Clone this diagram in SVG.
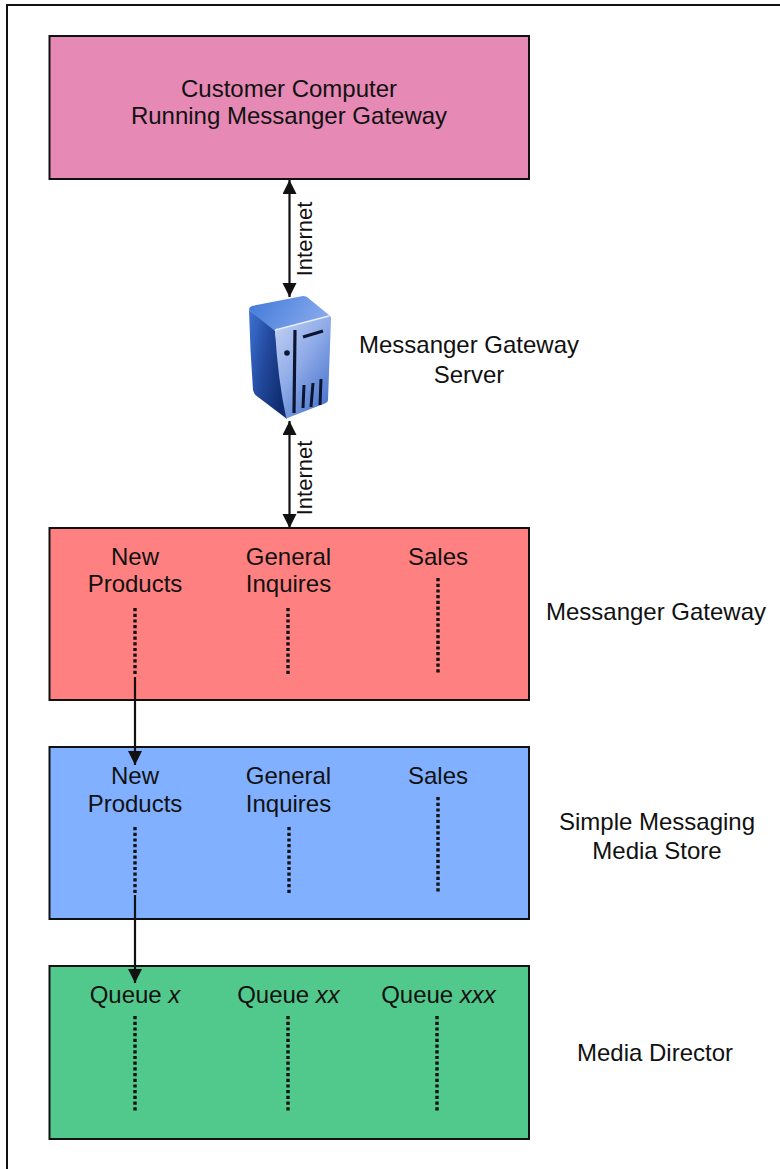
<svg xmlns="http://www.w3.org/2000/svg" width="780" height="1169" viewBox="0 0 780 1169">
<style>
text{font-family:"Liberation Sans",Arial,sans-serif;font-size:24px;fill:#111;text-anchor:middle}
.box{stroke:#111;stroke-width:2}
.dot{stroke:#111;stroke-width:3.400;stroke-dasharray:3.200 2.500;fill:none}
.con{stroke:#111;stroke-width:2.200;fill:none}
.cl{font-size:22px}
</style>
<defs>
<marker id="ah" markerUnits="userSpaceOnUse" markerWidth="15" markerHeight="15" refX="14" refY="7" orient="auto-start-reverse"><path d="M0 0L14 7L0 14Z" fill="#111"/></marker>
<linearGradient id="sf" x1="0" y1="0" x2="0.8" y2="1"><stop offset="0" stop-color="#c4d3f4"/><stop offset=".5" stop-color="#8fabe8"/><stop offset="1" stop-color="#4a74cc"/></linearGradient>
<linearGradient id="sl" x1="0" y1="0" x2="1" y2="0.6"><stop offset="0" stop-color="#3e72d6"/><stop offset=".5" stop-color="#234a9e"/><stop offset="1" stop-color="#0f2c70"/></linearGradient>
<linearGradient id="st" x1="0" y1="0" x2="1" y2="0.3"><stop offset="0" stop-color="#3f78d8"/><stop offset="1" stop-color="#86a8ec"/></linearGradient>
</defs>
<path id="frame" d="M7 1169V5H780" fill="none" stroke="#111" stroke-width="2"/>
<g id="customer">
<rect class="box" x="49.500" y="36" width="479.500" height="143" fill="#e689b4"/>
<text x="289" y="97">Customer Computer</text>
<text x="289" y="124">Running Messanger Gateway</text>
</g>
<g id="server">
<path d="M249 310Q249 307 252 306L303 296Q305 296 307 297L329 315Q332 318 329 319L276 333Z" fill="url(#st)"/>
<path d="M249 310L275 331L287 419L258 397Q254 395 253 390Q250 350 249 310Z" fill="url(#sl)"/>
<path d="M275 331Q276 329 279 329L329 316Q331 316 331 319L328 400Q328 402 326 403L290 417Q287 419 286 417Q278 380 275 331Z" fill="url(#sf)"/>
<path d="M275 331Q276 329 279 329L329 316" stroke="#e6edfb" stroke-width="1.500" fill="none"/>
<path d="M295 330L294 413" stroke="#0c1530" stroke-width="3.200" fill="none"/>
<path d="M303 337L323 331" stroke="#0c1530" stroke-width="3" fill="none"/>
<path d="M304 385L303 408M313 383L311 407M321 379L320 405" stroke="#0c1530" stroke-width="3" fill="none"/>
<circle cx="287" cy="353" r="2.800" fill="#0c1530"/>
</g>
<text id="server-label"><tspan x="469" y="353">Messanger Gateway</tspan><tspan x="469" y="383">Server</tspan></text>
<g id="gateway">
<rect class="box" x="49.500" y="528" width="479.500" height="172" fill="#ff8080"/>
<text x="135" y="565">New</text><text x="135" y="592">Products</text>
<text x="288.500" y="565">General</text><text x="288.500" y="592">Inquires</text>
<text x="438" y="565">Sales</text>
<path class="dot" d="M135 608V674M288 608V674M438 578V674"/>
</g>
<text id="gateway-label" x="656" y="620">Messanger Gateway</text>
<g id="store">
<rect class="box" x="49.500" y="747" width="479.500" height="172" fill="#80b0ff"/>
<text x="135" y="784">New</text><text x="135" y="812">Products</text>
<text x="288.500" y="784">General</text><text x="288.500" y="812">Inquires</text>
<text x="438" y="784">Sales</text>
<path class="dot" d="M135 827V893M289 827V893M438 797V893"/>
</g>
<text id="store-label"><tspan x="657" y="830">Simple Messaging</tspan><tspan x="657" y="859">Media Store</tspan></text>
<g id="director">
<rect class="box" x="49.500" y="966" width="479.500" height="173" fill="#52c98c"/>
<text x="135" y="1003">Queue <tspan font-style="italic">x</tspan></text>
<text x="288.500" y="1003">Queue <tspan font-style="italic">xx</tspan></text>
<text x="438.500" y="1003">Queue <tspan font-style="italic">xxx</tspan></text>
<path class="dot" d="M135 1016V1112M288 1016V1112M437 1016V1112"/>
</g>
<text id="director-label" x="655" y="1061">Media Director</text>
<g id="connectors">
<path class="con" d="M289.500 180V297" marker-start="url(#ah)" marker-end="url(#ah)"/>
<path class="con" d="M289.500 421V528" marker-start="url(#ah)" marker-end="url(#ah)"/>
<path class="con" d="M135 677V765" marker-end="url(#ah)"/>
<path class="con" d="M135 895V983" marker-end="url(#ah)"/>
</g>
<g id="connector-labels">
<text class="cl" transform="translate(312 239) rotate(-90)">Internet</text>
<text class="cl" transform="translate(312 478) rotate(-90)">Internet</text>
</g>
</svg>
